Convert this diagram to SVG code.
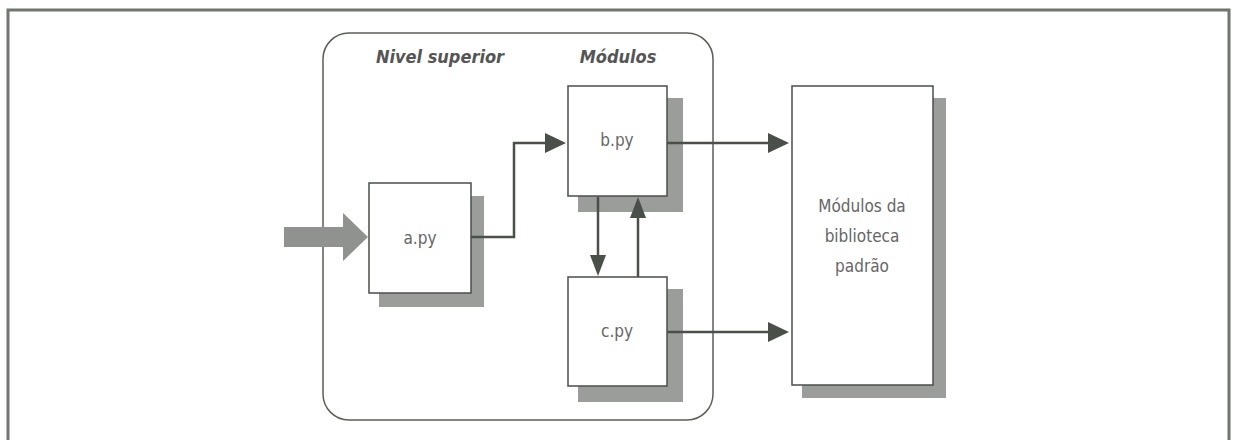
<svg xmlns="http://www.w3.org/2000/svg" width="1233" height="440" viewBox="0 0 1233 440">
<defs>
<style>
.frame{fill:none;stroke:#6f766f;stroke-width:3}
.box{fill:#fff;stroke:#4a4f4a;stroke-width:1.5}
.shadow{fill:#9a9d9a}
.cont{fill:none;stroke:#5a5f5a;stroke-width:1.5}
.lbl{font-family:"DejaVu Sans Condensed","Liberation Sans",sans-serif;font-size:17px;fill:#666;text-anchor:middle;font-weight:300}
.title{font-family:"DejaVu Sans Condensed","Liberation Sans",sans-serif;font-size:18px;fill:#555;text-anchor:middle;font-weight:bold;font-style:italic}
.conn{fill:none;stroke:#4a4f4a;stroke-width:2.5}
</style>
</defs>
<rect width="1233" height="440" fill="#fff"/>
<path class="frame" d="M8,440 V10 H1229 V440"/>
<g id="container">
<rect class="cont" x="323" y="33" width="390" height="387" rx="26"/>
<text class="title" x="440" y="63">Nivel superior</text>
<text class="title" x="618" y="63">Módulos</text>
</g>
<g id="a">
<rect class="shadow" x="379" y="196" width="105" height="111"/>
<rect class="box" x="369" y="183" width="102" height="110"/>
<text class="lbl" x="420" y="244">a.py</text>
</g>
<g id="b">
<rect class="shadow" x="578" y="98" width="105" height="114"/>
<rect class="box" x="568" y="86" width="99" height="110"/>
<text class="lbl" x="617" y="146">b.py</text>
</g>
<g id="c">
<rect class="shadow" x="578" y="289" width="105" height="113"/>
<rect class="box" x="568" y="277" width="99" height="109"/>
<text class="lbl" x="617" y="337">c.py</text>
</g>
<g id="lib">
<rect class="shadow" x="802" y="98" width="144" height="300"/>
<rect class="box" x="792" y="86" width="141" height="299"/>
<text class="lbl" x="862" y="212">Módulos da</text>
<text class="lbl" x="862" y="242">biblioteca</text>
<text class="lbl" x="862" y="272">padrão</text>
</g>
<g id="connectors">
<path d="M284,227 H343 V213 L368,237 L343,261 V247 H284 z" fill="#8f928f"/>
<path d="M471,237 H514 V143 H545" class="conn"/>
<path d="M545,133 L566,143 L545,153 z" fill="#4a4f4a"/>
<path d="M598,197 V255" class="conn"/>
<path d="M590,255 L598,276 L606,255 z" fill="#4a4f4a"/>
<path d="M638,277 V218" class="conn"/>
<path d="M630,218 L638,197 L646,218 z" fill="#4a4f4a"/>
<path d="M667,143 H768" class="conn"/>
<path d="M768,133 L789,143 L768,153 z" fill="#4a4f4a"/>
<path d="M667,332 H768" class="conn"/>
<path d="M768,322 L789,332 L768,342 z" fill="#4a4f4a"/>
</g>
</svg>
